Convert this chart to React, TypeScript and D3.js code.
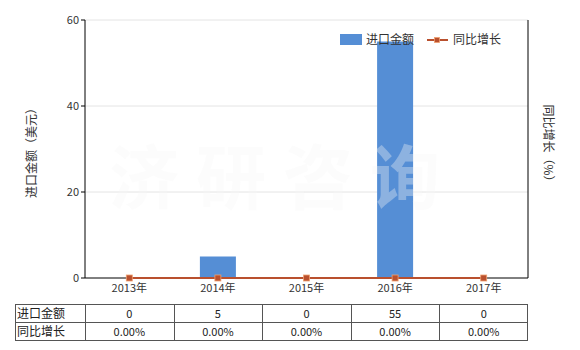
import React from "react";
import * as d3 from "d3";

const categories = ["2013年", "2014年", "2015年", "2016年", "2017年"];
const importValues = [0, 5, 0, 55, 0];
const growthValues = [0, 0, 0, 0, 0];
const importLabels = ["0", "5", "0", "55", "0"];
const growthLabels = ["0.00%", "0.00%", "0.00%", "0.00%", "0.00%"];
const yTicks = [0, 20, 40, 60];
const seriesNames = ["进口金额", "同比增长"];
const rowNames = ["进口金额", "同比增长"];

const W = 580;
const H = 350;
const left = 85;
const right = 528;
const top = 20;
const bottom = 278;
const font = "'Noto Sans CJK SC', 'Noto Sans', sans-serif";
const barColor = "#558ed5";
const lineColor = "#b9502e";

export default function App() {
  const x = d3.scaleBand<string>().domain(categories).range([left, right]);
  const y = d3.scaleLinear().domain([0, 60]).range([bottom, top]);
  const y2 = d3.scaleLinear().domain([0, 1]).range([bottom, top]);
  const barW = 36;
  const line = d3
    .line<number>()
    .x((_, i) => (x(categories[i]) as number) + x.bandwidth() / 2)
    .y((d) => y2(d));

  const tableTop = 304;
  const rowH = 18;
  const tableLeft = 15;
  const cols = categories.map((c) => x(c) as number);

  return (
    <svg
      width={W}
      height={H}
      style={{ position: "absolute", left: 0, top: 0, background: "#fff" }}
      fontFamily={font}
    >
      {/* gridlines */}
      {yTicks.filter((t) => t > 0).map((t) => (
        <line key={t} x1={left} x2={right} y1={y(t)} y2={y(t)} stroke="#e4e4e4" strokeWidth={1} />
      ))}
      {/* bars */}
      {importValues.map((v, i) => (
        <rect
          key={i}
          x={(x(categories[i]) as number) + x.bandwidth() / 2 - barW / 2}
          y={y(v)}
          width={barW}
          height={bottom - y(v)}
          fill={barColor}
        />
      ))}
      {/* watermark */}
      <text
        x={283}
        y={204}
        textAnchor="middle"
        fontSize={70}
        fontWeight="bold"
        letterSpacing={17}
        fill="#f5f5f5"
        fillOpacity={0.35}
        fontFamily="'Noto Sans CJK SC', sans-serif"
      >
        济研咨询
      </text>
      {/* axes */}
      <line x1={left} x2={left} y1={top} y2={bottom} stroke="#000" />
      <line x1={right} x2={right} y1={top} y2={bottom} stroke="#000" />
      <line x1={left} x2={right} y1={bottom} y2={bottom} stroke="#000" />
      {yTicks.map((t) => (
        <g key={t}>
          <line x1={left - 4} x2={left} y1={y(t)} y2={y(t)} stroke="#000" />
          <text x={left - 6} y={y(t)} dy="0.35em" textAnchor="end" fontSize={11} fill="#333">
            {t}
          </text>
        </g>
      ))}
      {categories.map((c) => (
        <text
          key={c}
          x={(x(c) as number) + x.bandwidth() / 2}
          y={292}
          textAnchor="middle"
          fontSize={11}
          fill="#333"
        >
          {c}
        </text>
      ))}
      {/* line series */}
      <path d={line(growthValues) || ""} fill="none" stroke={lineColor} strokeWidth={2} />
      {growthValues.map((v, i) => (
        <rect
          key={i}
          x={(x(categories[i]) as number) + x.bandwidth() / 2 - 3}
          y={y2(v) - 3}
          width={6}
          height={6}
          fill={lineColor}
          stroke="#f0a070"
          strokeWidth={0.8}
        />
      ))}
      {/* axis titles */}
      <text
        transform={`translate(36,150) rotate(-90)`}
        textAnchor="middle"
        fontSize={12}
        fill="#333"
      >
        进口金额（美元）
      </text>
      <text
        transform={`translate(544,146) rotate(90)`}
        textAnchor="middle"
        fontSize={12}
        fill="#333"
      >
        同比增长（%）
      </text>
      {/* legend */}
      <rect x={340} y={34} width={22} height={11} fill={barColor} />
      <text x={366} y={40} dy="0.35em" fontSize={12} fill="#333">
        {seriesNames[0]}
      </text>
      <line x1={427} x2={448} y1={40} y2={40} stroke={lineColor} strokeWidth={2} />
      <rect x={434.5} y={37.5} width={5} height={5} fill={lineColor} stroke="#f0a070" strokeWidth={0.8} />
      <text x={453} y={40} dy="0.35em" fontSize={12} fill="#333">
        {seriesNames[1]}
      </text>
      {/* table */}
      <g stroke="#555" strokeWidth={1} fill="none">
        <rect x={tableLeft + 0.5} y={tableTop + 0.5} width={right - tableLeft - 1} height={rowH * 2} />
        <line x1={tableLeft} x2={right} y1={tableTop + rowH + 0.5} y2={tableTop + rowH + 0.5} />
        {cols.map((cx, i) => (
          <line key={i} x1={Math.round(cx) + 0.5} x2={Math.round(cx) + 0.5} y1={tableTop} y2={tableTop + rowH * 2} />
        ))}
      </g>
      {rowNames.map((r, ri) => (
        <text key={r} x={tableLeft + 2} y={tableTop + rowH * ri + rowH / 2 + 0.5} dy="0.35em" fontSize={12} fill="#222">
          {r}
        </text>
      ))}
      {categories.map((c, i) => (
        <g key={c}>
          <text
            x={(x(c) as number) + x.bandwidth() / 2}
            y={tableTop + rowH / 2 + 1}
            dy="0.35em"
            textAnchor="middle"
            fontSize={11}
            fill="#222"
          >
            {importLabels[i]}
          </text>
          <text
            x={(x(c) as number) + x.bandwidth() / 2}
            y={tableTop + rowH * 1.5 + 1}
            dy="0.35em"
            textAnchor="middle"
            fontSize={11}
            fill="#222"
          >
            {growthLabels[i]}
          </text>
        </g>
      ))}
    </svg>
  );
}
